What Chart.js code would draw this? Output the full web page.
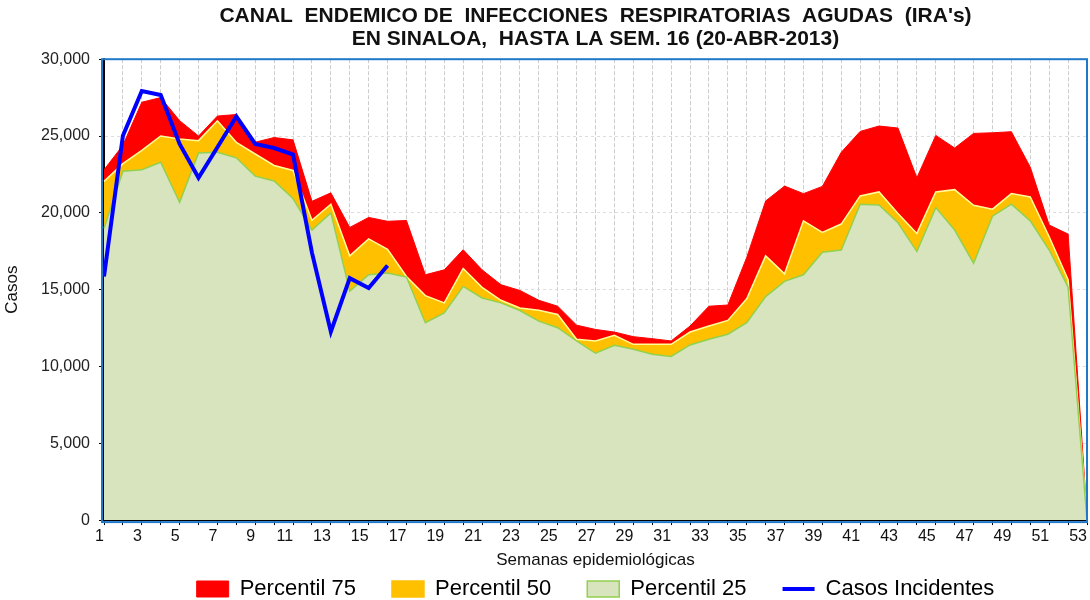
<!DOCTYPE html>
<html>
<head>
<meta charset="utf-8">
<script src="https://cdn.jsdelivr.net/npm/chart.js@4"></script>
<style>
  body { margin: 0; background: #fff; }
  #caja { width: 1090px; height: 600px; }
</style>
</head>
<body>
<div id="caja"><canvas id="canal"></canvas></div>
<script>
// semanas epidemiologicas 1..53
var semanas = [];
for (var s = 1; s <= 53; s++) semanas.push(s);

var percentil75 = [22800, 24400, 27200, 27500, 26000, 25000, 26300, 26400, 24600, 24900,
    24750, 20750, 21300, 19050, 19700, 19450, 19500, 15970, 16290, 17600,
    16290, 15320, 14950, 14310, 13920, 12690, 12410, 12240, 11940, 11810,
    11660, 12630, 13920, 14000, 17100, 20770, 21740, 21250, 21720, 23940,
    25300, 25650, 25520, 22280, 25040, 24220, 25170, 25210, 25280, 22970,
    19200, 18620, 300];

var percentil50 = [22050, 23200, 24070, 25000, 24800, 24700, 25990, 24590, 23830, 23080,
    22760, 19520, 20560, 17200, 18300, 17630, 15860, 14610, 14140, 16380,
    15150, 14310, 13810, 13660, 13380, 11770, 11660, 12030, 11440, 11440,
    11440, 12240, 12630, 13000, 14400, 17200, 16030, 19480, 18730, 19270,
    21100, 21360, 19960, 18660, 21360, 21510, 20490, 20240, 21250, 21030,
    18440, 15650, 150];

var percentil25 = [19000, 22710, 22800, 23290, 20680, 23900, 23940, 23580, 22390, 22070,
    20930, 18880, 20000, 14900, 15970, 16080, 15820, 12850, 13490, 15210,
    14460, 14140, 13640, 12950, 12520, 11660, 10860, 11380, 11120, 10800,
    10650, 11400, 11770, 12100, 12850, 14550, 15540, 15970, 17430, 17580,
    20560, 20510, 19350, 17480, 20340, 18880, 16720, 19780, 20560, 19480,
    17580, 15170, 0];

// casos 2013 hasta la semana 16
var casos = [15860, 25020, 27930, 27670, 24480, 22280, 24270, 26270, 24480, 24220,
    23790, 17410, 12260, 15750, 15110, 16570];

var fuente = "'Liberation Sans', Arial, sans-serif";

// marco azul alrededor del area de trazado
var marco = {
    id: 'marco',
    afterDraw: function(chart) {
        var ctx = chart.ctx, a = chart.chartArea;
        ctx.save();
        ctx.strokeStyle = '#1f78c8';
        ctx.lineWidth = 2;
        ctx.strokeRect(a.left - 2, a.top, a.right - a.left + 2, a.bottom - a.top + 2);
        ctx.restore();
    }
};

var ctx = document.getElementById("canal").getContext("2d");

var grafica = new Chart(ctx, {
    type: 'line',
    data: {
        labels: semanas,
        datasets: [
            {
                label: "Casos Incidentes",
                data: casos,
                borderColor: "#0000ff",
                backgroundColor: "#0000ff",
                borderWidth: 4,
                fill: false,
                pointRadius: 0,
                pointStyle: 'line'
            },
            {
                label: "Percentil 25",
                data: percentil25,
                borderColor: "#92d050",
                backgroundColor: "#d7e4bd",
                borderWidth: 1.5,
                fill: 'origin',
                pointRadius: 0,
                pointStyle: 'rect'
            },
            {
                label: "Percentil 50",
                data: percentil50,
                borderColor: "#ffff99",
                backgroundColor: "#ffc000",
                borderWidth: 1.5,
                fill: 'origin',
                pointRadius: 0,
                pointStyle: 'rect'
            },
            {
                label: "Percentil 75",
                data: percentil75,
                borderColor: "#ff0000",
                backgroundColor: "#ff0000",
                borderWidth: 1,
                fill: 'origin',
                pointRadius: 0,
                pointStyle: 'rect'
            }
        ]
    },
    options: {
        responsive: true,
        maintainAspectRatio: false,
        animation: false,
        layout: { padding: { left: 0, right: 3, top: 0, bottom: -10 } },
        plugins: {
            title: {
                display: true,
                fullSize: false,
                text: ["CANAL  ENDEMICO DE  INFECCIONES  RESPIRATORIAS  AGUDAS  (IRA's)",
                       "EN SINALOA,  HASTA LA SEM. 16 (20-ABR-2013)"],
                color: '#111',
                font: { family: fuente, size: 21, weight: 'bold', lineHeight: 1.1 },
                padding: { top: 5, bottom: 8 }
            },
            legend: {
                position: 'bottom',
                fullSize: false,
                reverse: true,
                labels: {
                    usePointStyle: true,
                    pointStyleWidth: 32,
                    boxHeight: 16,
                    padding: 8,
                    color: '#000',
                    font: { family: fuente, size: 22 },
                    generateLabels: function(chart) {
                        var items = Chart.defaults.plugins.legend.labels.generateLabels(chart);
                        items.forEach(function(it) {
                            if (it.text !== 'Casos Incidentes') it.text += '\u2003 ';
                            if (it.text.indexOf('50') > 0) it.strokeStyle = '#ffc000';
                        });
                        return items;
                    }
                }
            },
            tooltip: { enabled: false }
        },
        scales: {
            x: {
                grid: {
                    color: '#cccccc',
                    tickColor: '#000',
                    tickLength: 5
                },
                border: { color: '#000', width: 2, dash: [4, 2] },
                ticks: {
                    autoSkip: false,
                    maxRotation: 0,
                    align: 'end',
                    padding: 2,
                    color: '#111',
                    font: { family: fuente, size: 16 },
                    callback: function(val) {
                        var et = this.getLabelForValue(val);
                        return (et % 2 === 1) ? et : '';
                    }
                },
                title: {
                    display: true,
                    text: 'Semanas epidemiológicas',
                    color: '#111',
                    font: { family: fuente, size: 17, lineHeight: 1.1 },
                    padding: { top: 3, bottom: 0 }
                },
                afterFit: function(sc) { sc.paddingLeft = 0; sc.paddingRight = 0; }
            },
            y: {
                min: 0,
                max: 30000,
                ticks: {
                    stepSize: 5000,
                    padding: 9,
                    color: '#222',
                    font: { family: fuente, size: 16 }
                },
                grid: {
                    color: '#dddddd',
                    tickColor: '#000',
                    tickLength: 5
                },
                border: { color: '#000', width: 2, dash: [3, 3] },
                title: {
                    display: true,
                    text: 'Casos',
                    color: '#111',
                    font: { family: fuente, size: 17 },
                    padding: { top: 2, bottom: 0 }
                },
                afterFit: function(sc) { sc.width = 104; }
            }
        }
    },
    plugins: [marco]
});
</script>
</body>
</html>
